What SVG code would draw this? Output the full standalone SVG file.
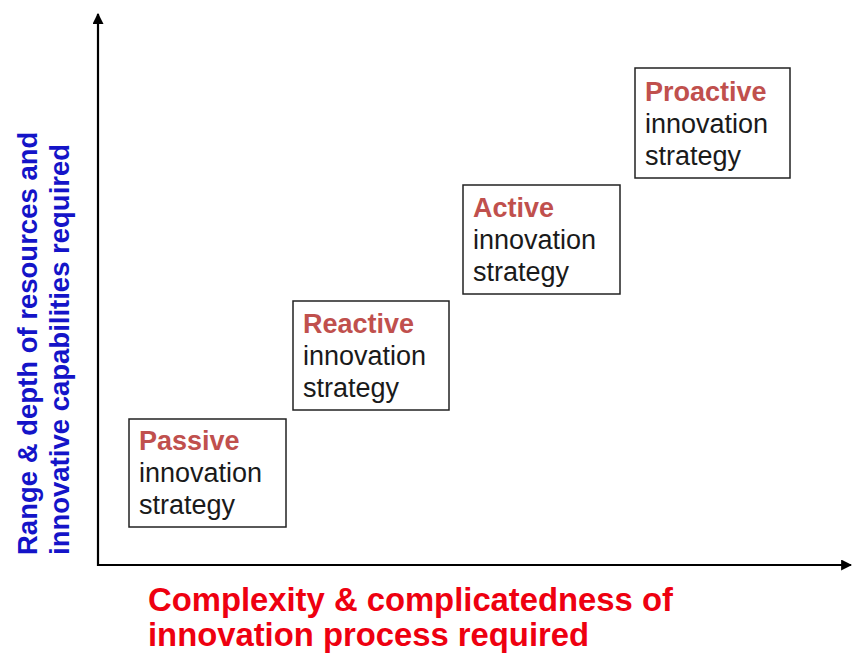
<svg xmlns="http://www.w3.org/2000/svg" width="852" height="654" viewBox="0 0 852 654">
  <style>
    .box { fill: #ffffff; stroke: #222222; stroke-width: 1.5; }
    .title { font-family: "Liberation Sans", Arial, sans-serif; font-size: 27px; font-weight: bold; fill: #c0504d; }
    .body { font-family: "Liberation Sans", Arial, sans-serif; font-size: 27px; fill: #1a1a1a; }
    .axis { stroke: #000000; stroke-width: 2.2; fill: none; }
    .ylabel { font-family: "Liberation Sans", Arial, sans-serif; font-size: 27.5px; font-weight: bold; fill: #1414c8; }
    .xlabel { font-family: "Liberation Sans", Arial, sans-serif; font-size: 32.8px; font-weight: bold; fill: #ee0010; }
  </style>
  <defs>
    <marker id="arrow" viewBox="0 0 10 10" refX="9" refY="5" markerWidth="5" markerHeight="5" orient="auto" markerUnits="strokeWidth">
      <path d="M0,0 L10,5 L0,10 z" fill="#000000"/>
    </marker>
  </defs>
  <rect width="852" height="654" fill="#ffffff"/>

  <!-- axes with arrowheads -->
  <g id="axes">
    <line class="axis" x1="98" y1="566" x2="98" y2="14" marker-end="url(#arrow)"/>
    <line class="axis" x1="97" y1="565" x2="851" y2="565" marker-end="url(#arrow)"/>
  </g>

  <!-- strategy boxes, stepping up and to the right -->
  <g id="passive">
    <rect class="box" x="129" y="419" width="157" height="108"/>
    <text class="title" x="139" y="450">Passive</text>
    <text class="body" x="139" y="482">innovation</text>
    <text class="body" x="139" y="514">strategy</text>
  </g>
  <g id="reactive">
    <rect class="box" x="293" y="301" width="156" height="109"/>
    <text class="title" x="303" y="333">Reactive</text>
    <text class="body" x="303" y="365">innovation</text>
    <text class="body" x="303" y="397">strategy</text>
  </g>
  <g id="active">
    <rect class="box" x="463" y="185" width="157" height="109"/>
    <text class="title" x="473" y="217">Active</text>
    <text class="body" x="473" y="249">innovation</text>
    <text class="body" x="473" y="281">strategy</text>
  </g>
  <g id="proactive">
    <rect class="box" x="635" y="68" width="155" height="110"/>
    <text class="title" x="645" y="101">Proactive</text>
    <text class="body" x="645" y="133">innovation</text>
    <text class="body" x="645" y="165">strategy</text>
  </g>

  <!-- axis titles -->
  <g id="y-label">
    <text class="ylabel" transform="translate(37,555) rotate(-90)">Range &amp; depth of resources and</text>
    <text class="ylabel" transform="translate(69,555) rotate(-90)">innovative capabilities required</text>
  </g>
  <g id="x-label">
    <text class="xlabel" x="148" y="611">Complexity &amp; complicatedness of</text>
    <text class="xlabel" x="148" y="646">innovation process required</text>
  </g>
</svg>
